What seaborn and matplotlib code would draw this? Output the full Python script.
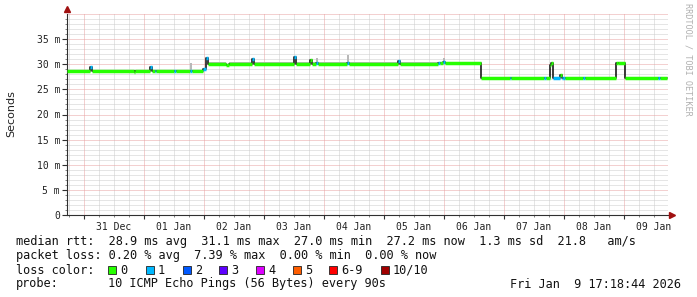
import numpy as np
import pandas as pd
import matplotlib
matplotlib.use("Agg")
import matplotlib.pyplot as plt
import seaborn as sns
from matplotlib.patches import Rectangle

# ---------------- data (days relative to 31 Dec 00:00) ----------------
seg_day = [-0.279, 0.10, 0.13, 0.83, 0.85, 1.10, 1.13, 1.18, 1.20, 1.51, 1.53,
           1.78, 1.80, 1.99, 2.04, 2.07, 2.37, 2.42, 2.81, 2.84, 3.51, 3.54,
           3.78, 3.80, 3.88, 3.90, 4.39, 4.42, 5.24, 5.27, 5.91, 5.94, 5.99,
           6.02, 6.63, 7.11, 7.13, 7.68, 7.70, 7.77, 7.79, 7.83, 7.94, 7.97,
           7.99, 8.03, 8.33, 8.35, 8.88, 8.91, 9.02, 9.58, 9.60]
seg_rtt = [28.7, 29.5, 28.7, 28.5, 28.7, 29.5, 28.7, 28.7, 28.7, 28.7, 28.7,
           28.7, 28.7, 29.0, 31.2, 30.0, 29.8, 30.0, 31.1, 30.1, 31.5, 30.1,
           30.8, 30.1, 30.2, 30.1, 30.3, 30.1, 30.6, 30.1, 30.2, 30.2, 30.5,
           30.2, 27.2, 27.2, 27.2, 27.2, 27.2, 29.8, 30.2, 27.2, 27.8, 27.2,
           27.2, 27.2, 27.2, 27.2, 30.2, 30.2, 27.2, 27.2, 27.2]
seg_loss = [0, 1, 0, 0, 0, 1, 0, 1, 0, 1, 0,
            1, 0, 1, 1, 0, 0, 0, 1, 0, 1, 0,
            0, 0, 1, 0, 1, 0, 1, 0, 1, 0, 1,
            0, 0, 1, 0, 1, 0, 0, 0, 1, 0, 1,
            1, 0, 1, 0, 0, 0, 0, 1, 0]
seg_smoke = [28.8, 29.5, 28.9, 28.6, 28.8, 29.5, 28.8, 28.8, 28.8, 28.8, 28.8,
             30.3, 28.8, 29.2, 31.3, 30.4, 30.0, 30.4, 31.1, 30.4, 31.5, 30.4,
             30.8, 30.4, 31.3, 30.4, 31.9, 30.4, 30.6, 30.4, 30.4, 30.4, 31.3,
             30.4, 27.3, 27.3, 27.3, 27.3, 27.3, 29.8, 30.3, 27.4, 27.8, 27.3,
             27.3, 27.3, 27.3, 27.3, 30.4, 30.4, 27.3, 27.3, 27.3]
x_end = 9.721

day_labels = ["31 Dec", "01 Jan", "02 Jan", "03 Jan", "04 Jan",
              "05 Jan", "06 Jan", "07 Jan", "08 Jan", "09 Jan"]
y_ticks = [0, 5, 10, 15, 20, 25, 30, 35]
y_labels = ["0", "5 m", "10 m", "15 m", "20 m", "25 m", "30 m", "35 m"]

loss_labels = ["0", "1", "2", "3", "4", "5", "6-9", "10/10"]
loss_colors = ["#26ff00", "#00b8ff", "#0059ff", "#5e00ff", "#dd00ff",
               "#ff5e00", "#ff0000", "#a10000"]

legend_row1 = "median rtt:  28.9 ms avg  31.1 ms max  27.0 ms min  27.2 ms now  1.3 ms sd  21.8   am/s"
legend_row2 = "packet loss: 0.20 % avg  7.39 % max  0.00 % min  0.00 % now"
probe_text = "10 ICMP Echo Pings (56 Bytes) every 90s"
stamp_text = "Fri Jan  9 17:18:44 2026"

# ---------------- figure ----------------
sns.set_theme(style="white")
plt.rcParams["font.family"] = ["DejaVu Sans Mono", "DejaVu Sans"]

W, H = 697, 297
fig = plt.figure(figsize=(W / 100, H / 100), dpi=100)
fig.patch.set_facecolor("white")


def px(x, y):
    return x / W, 1 - y / H


ax = fig.add_axes([67 / W, (H - 215) / H, 601 / W, 201 / H])
ax.set_facecolor("white")
ax.set_xlim(-0.279, x_end + 0.02)
ax.set_ylim(0, 40)

# ---- dotted grid ----
grid_c = "#cccccc"
mgrid_c = "#e8a2a2"
dot = (0, (1, 1))
minor_x = [d + h for d in range(-1, 10) for h in (0.25, 0.5, 0.75)
           if -0.279 < d + h < x_end]
for xv in minor_x:
    ax.axvline(xv, color=grid_c, lw=0.72, ls=dot, zorder=0)
for yv in range(1, 41):
    if yv % 5:
        ax.axhline(yv, color=grid_c, lw=0.72, ls=dot, zorder=0)
for d in range(0, 10):
    ax.axvline(d, color=mgrid_c, lw=0.72, ls=dot, zorder=0.5)
for yv in range(5, 41, 5):
    ax.axhline(yv, color=mgrid_c, lw=0.72, ls=dot, zorder=0.5)

# ---- data ----
days = seg_day + [x_end]
df = pd.DataFrame({"day": days,
                   "rtt": seg_rtt + [seg_rtt[-1]],
                   "smoke": seg_smoke + [seg_smoke[-1]]})
ax.fill_between(df["day"], df["rtt"], df["smoke"], step="post",
                color="#b8b8b8", lw=0, zorder=1)
sns.lineplot(data=df, x="day", y="rtt", drawstyle="steps-post",
             estimator=None, sort=False, color="#1a1a1a", lw=1.2, ax=ax,
             zorder=2)
ax.hlines(seg_rtt, seg_day, days[1:],
          colors=[loss_colors[l] for l in seg_loss], lw=2.5, zorder=3)

# ---- axes styling ----
for s in ("top", "right"):
    ax.spines[s].set_visible(False)
for s in ("left", "bottom"):
    ax.spines[s].set_color("#303030")
    ax.spines[s].set_linewidth(0.8)
ax.set_xlabel("")
ax.set_ylabel("")
ax.set_yticks(y_ticks)
ax.set_yticklabels(y_labels)
ax.set_yticks(range(1, 40), minor=True)
ax.set_xticks([d + 0.5 for d in range(10)])
ax.set_xticklabels(day_labels)
ax.tick_params(axis="y", which="major", length=3.5, width=0.8, color="#303030",
               pad=1.5, labelsize=7, labelcolor="#222222", left=True)
ax.tick_params(axis="y", which="minor", length=1.5, width=0.6, color="#707070",
               left=True)
ax.tick_params(axis="x", length=0, pad=5, labelsize=7, labelcolor="#222222")
ax.vlines(range(0, 10), -0.8, 0, colors="#303030", lw=0.8, clip_on=False)
ax.vlines(minor_x, -0.4, 0, colors="#707070", lw=0.6, clip_on=False)

# arrows
ax.plot([-0.279], [40.9], marker="^", color="#a01010", ms=4, clip_on=False,
        zorder=5)
ax.plot([x_end + 0.08], [0], marker=">", color="#a01010", ms=4, clip_on=False,
        zorder=5)

# ---- labels ----
fig.text(*px(11, 114), "Seconds", rotation=90, ha="center", va="center",
         fontsize=8, family="DejaVu Sans", color="#222222")
fig.text(*px(688, 59), "RRDTOOL / TOBI OETIKER", rotation=270, ha="center",
         va="center", fontsize=6.1, color="#b0b0b0")

fs = 8.6
tc = "#111111"
fig.text(*px(16, 241), legend_row1, ha="left", va="center", fontsize=fs, color=tc)
fig.text(*px(16, 255.5), legend_row2, ha="left", va="center", fontsize=fs, color=tc)
fig.text(*px(16, 270), "loss color:", ha="left", va="center", fontsize=fs, color=tc)
box_x = [108, 146, 183, 219, 256, 293, 329, 381]
for bx, lab, col in zip(box_x, loss_labels, loss_colors):
    x0, y0 = px(bx, 274)
    fig.patches.append(Rectangle((x0, y0), 8 / W, 8 / H, transform=fig.transFigure,
                                 facecolor=col, edgecolor="#222222", lw=0.6))
    fig.text(*px(bx + 12, 270), lab, ha="left", va="center", fontsize=fs, color=tc)
fig.text(*px(16, 284), "probe:", ha="left", va="center", fontsize=fs, color=tc)
fig.text(*px(108, 284), probe_text, ha="left", va="center", fontsize=fs, color=tc)
fig.text(*px(681, 284), stamp_text, ha="right", va="center", fontsize=fs, color=tc)

fig.savefig("out.png", dpi=100, facecolor="white")
